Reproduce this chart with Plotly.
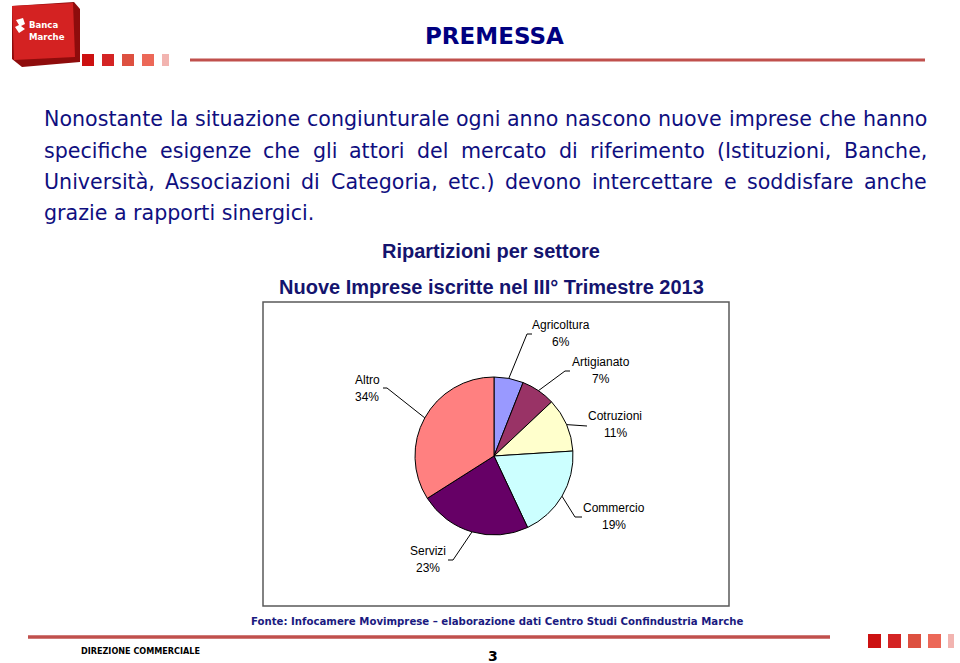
import math
import plotly.graph_objects as go

# ---------------- data ----------------
sectors = ["Agricoltura", "Artigianato", "Cotruzioni", "Commercio", "Servizi", "Altro"]
shares = [6, 7, 11, 19, 23, 34]
slice_colors = ["#9999FF", "#993366", "#FFFFCC", "#CCFFFF", "#660066", "#FF8080"]

title_text = "PREMESSA"
paragraph_lines = [
    "Nonostante la situazione congiunturale ogni anno nascono nuove imprese che hanno",
    "specifiche esigenze che gli attori del mercato di riferimento (Istituzioni, Banche,",
    "Università, Associazioni di Categoria, etc.) devono intercettare e soddisfare anche",
    "grazie a rapporti sinergici.",
]
chart_title1 = "Ripartizioni per settore"
chart_title2 = "Nuove Imprese iscritte nel III° Trimestre 2013"
source_text = "Fonte: Infocamere Movimprese – elaborazione dati Centro Studi Confindustria Marche"
footer_left = "DIREZIONE COMMERCIALE"
page_number = "3"

# ---------------- layout constants (pixels) ----------------
W, H = 960, 663
CX, CY, R = 494, 456, 79
PAR_LEFT, PAR_RIGHT = 42, 925
PAR_Y = [119, 151, 182, 213]
PAR_SIZE = 20.6
# label layout: (elbow, end, label centre x, label name y, label pct y)
label_layout = {
    "Agricoltura": ((527, 334), (532, 334), 561, 325, 342),
    "Artigianato": ((565, 371), (570, 371), 601, 362, 379),
    "Cotruzioni": (None, (587, 426), 615, 416, 433),
    "Commercio": ((575, 517), (582, 517), 614, 508, 525),
    "Servizi": ((453, 560), (448, 560), 428, 551, 568),
    "Altro": ((387, 388), (383, 388), 367, 380, 397),
}

NAVY = "#0F0F80"
RED_LINE = "#C0504D"

# approximate DejaVu Sans advance widths (em) used to justify the paragraph
ADV = {
    'a': .613, 'b': .635, 'c': .550, 'd': .635, 'e': .615, 'f': .352, 'g': .635, 'h': .634,
    'i': .278, 'j': .278, 'k': .579, 'l': .278, 'm': .974, 'n': .634, 'o': .612, 'p': .635,
    'q': .635, 'r': .411, 's': .521, 't': .392, 'u': .634, 'v': .592, 'w': .818, 'x': .592,
    'y': .592, 'z': .525, ',': .318, '.': .318, '(': .390, ')': .390, 'à': .613,
    'A': .684, 'B': .686, 'C': .698, 'I': .295, 'N': .748, 'U': .732,
}

def word_width(w, size):
    return sum(ADV.get(ch, 0.6) for ch in w) * size

fig = go.Figure()

fig.add_trace(go.Pie(
    labels=sectors, values=shares, sort=False, direction="clockwise", rotation=0,
    marker=dict(colors=slice_colors, line=dict(color="black", width=1)),
    textinfo="none", hoverinfo="label+percent", showlegend=False,
    domain=dict(x=[(CX - R) / W, (CX + R) / W], y=[1 - (CY + R) / H, 1 - (CY - R) / H]),
))

shapes = []
annotations = []

def ann(text, x, y, size, color="black", family="Liberation Sans, Arial", bold=False,
        xanchor="center", yanchor="middle"):
    if bold:
        text = "<b>" + text + "</b>"
    annotations.append(dict(text=text, x=x, y=y, xref="x", yref="y", showarrow=False,
                            xanchor=xanchor, yanchor=yanchor,
                            font=dict(size=size, color=color, family=family)))

# chart box
shapes.append(dict(type="rect", x0=263, y0=302, x1=729, y1=606, xref="x", yref="y",
                   line=dict(color="#5A5A5A", width=1.5), layer="below"))

# leader lines computed from slice mid-angles
total = sum(shares)
cum = 0
for name, v in zip(sectors, shares):
    mid = (cum + v / 2) / total * 2 * math.pi
    cum += v
    sx = CX + R * math.sin(mid)
    sy = CY - R * math.cos(mid)
    elbow, end, lx, ny, py = label_layout[name]
    if elbow is None:
        path = f"M {sx:.1f},{sy:.1f} L {end[0]},{end[1]}"
    else:
        path = f"M {sx:.1f},{sy:.1f} L {elbow[0]},{elbow[1]} L {end[0]},{end[1]}"
    shapes.append(dict(type="path", path=path, xref="x", yref="y",
                       line=dict(color="black", width=1)))
    ann(name, lx, ny, 12)
    ann(f"{v}%", lx, py, 12)

# header: logo
shapes.append(dict(type="path", path="M 12,6 L 74,2 L 80,9 L 80,62 L 22,67 L 12,59 Z",
                   xref="x", yref="y", fillcolor="#8E0C0C", line=dict(width=0)))
shapes.append(dict(type="path", path="M 12,6 L 73,3 L 75,57 L 14,60 Z",
                   xref="x", yref="y", fillcolor="#D42222", line=dict(width=0)))
shapes.append(dict(type="path", path="M 16,20 L 23,18 L 25,24 L 21,26 L 25,29 L 19,33 L 15,27 L 19,25 Z",
                   xref="x", yref="y", fillcolor="white", line=dict(width=0)))
annotations.append(dict(text="<b>Banca<br>Marche</b>", x=27, y=30, xref="x", yref="y",
                        showarrow=False, xanchor="left", yanchor="middle", align="left",
                        font=dict(size=9.5, color="white",
                                  family="DejaVu Sans Condensed, DejaVu Sans")))
sq_colors = ["#CC1111", "#D42424", "#DD5040", "#EC6858", "#F2B4B0"]
for i, c in enumerate(sq_colors):
    x0 = 82 + i * 20
    shapes.append(dict(type="rect", x0=x0, y0=54, x1=x0 + (12 if i < 4 else 7), y1=66,
                       xref="x", yref="y", fillcolor=c, line=dict(width=0)))
shapes.append(dict(type="line", x0=190, y0=60, x1=925, y1=60, xref="x", yref="y",
                   line=dict(color=RED_LINE, width=3)))
ann(title_text, 494, 36, 23, color="#000080", family="DejaVu Sans", bold=True)

# paragraph: first three lines justified, last line left aligned
PFONT = "DejaVu Sans"
for li, (line, y) in enumerate(zip(paragraph_lines, PAR_Y)):
    if li == len(paragraph_lines) - 1:
        ann(line, PAR_LEFT, y, PAR_SIZE, color=NAVY, family=PFONT, xanchor="left")
        continue
    words = line.split(" ")
    widths = [word_width(w, PAR_SIZE) for w in words]
    gap = (PAR_RIGHT - PAR_LEFT - sum(widths)) / (len(words) - 1)
    x = PAR_LEFT
    for w, wd in zip(words, widths):
        ann(w, x, y, PAR_SIZE, color=NAVY, family=PFONT, xanchor="left")
        x += wd + gap

# chart titles
ann(chart_title1, 491, 251, 20, color="#14146E", bold=True)
ann(chart_title2, 491, 287, 20, color="#14146E", bold=True)

# source and footer
ann(source_text, 497, 621, 11.3, color="#1A1A80",
    family="DejaVu Sans Condensed, DejaVu Sans", bold=True)
shapes.append(dict(type="line", x0=28, y0=637, x1=830, y1=637, xref="x", yref="y",
                   line=dict(color=RED_LINE, width=3.5)))
ann(footer_left, 140, 651, 9, color="black",
    family="DejaVu Sans Condensed, DejaVu Sans", bold=True)
ann(page_number, 493, 656, 14, color="black", family="DejaVu Sans", bold=True)
for i, c in enumerate(sq_colors):
    x0 = 868 + i * 20
    shapes.append(dict(type="rect", x0=x0, y0=634, x1=x0 + (13 if i < 4 else 6), y1=648,
                       xref="x", yref="y", fillcolor=c, line=dict(width=0)))

fig.update_layout(
    width=W, height=H, margin=dict(l=0, r=0, t=0, b=0),
    paper_bgcolor="white", plot_bgcolor="rgba(0,0,0,0)",
    xaxis=dict(range=[0, W], visible=False, fixedrange=True),
    yaxis=dict(range=[H, 0], visible=False, fixedrange=True),
    shapes=shapes, annotations=annotations, showlegend=False,
)

fig.write_html("out.html", config={"displayModeBar": False})
